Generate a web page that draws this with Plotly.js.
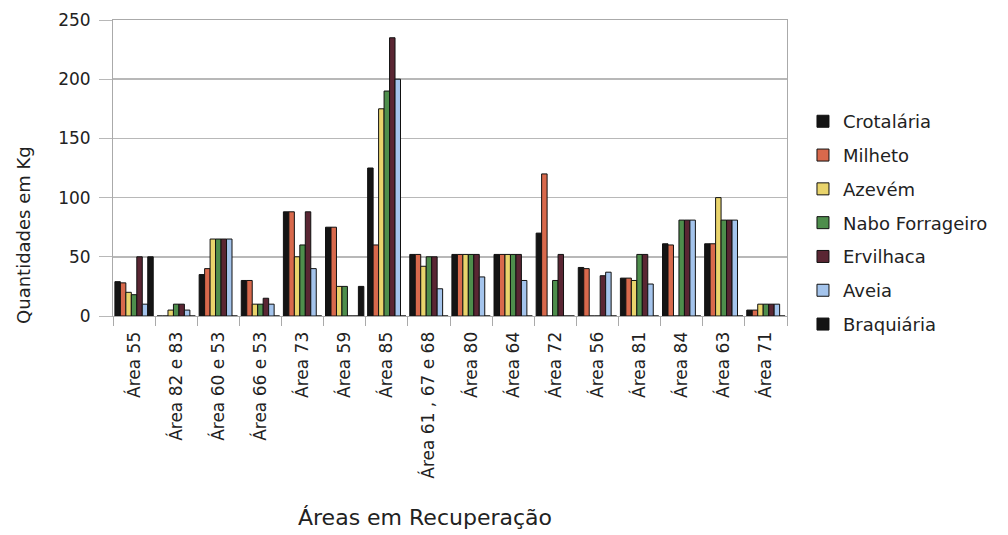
<!DOCTYPE html>
<html>
<head>
<meta charset="utf-8">
<script src="https://cdn.plot.ly/plotly-3.0.1.min.js"></script>
<style>html,body{margin:0;padding:0;background:#fff;}#chart{width:1008px;height:535px;}</style>
</head>
<body>
<div id="chart"></div>
<script>
const categories = ["Área 55","Área 82 e 83","Área 60 e 53","Área 66 e 53","Área 73","Área 59","Área 85","Área 61 , 67 e 68","Área 80","Área 64","Área 72","Área 56","Área 81","Área 84","Área 63","Área 71"];
const seriesNames = ["Crotalária","Milheto","Azevém","Nabo Forrageiro","Ervilhaca","Aveia","Braquiária"];
const crotalaria = [29, 0, 35, 30, 88, 75, 125, 52, 52, 52, 70, 41, 32, 61, 61, 5];
const milheto    = [28, 0, 40, 30, 88, 75, 60, 52, 52, 52, 120, 40, 32, 60, 61, 5];
const azevem     = [20, 5, 65, 10, 50, 25, 175, 42, 52, 52, 0, 0, 30, 0, 100, 10];
const nabo       = [18, 10, 65, 10, 60, 25, 190, 50, 52, 52, 30, 0, 52, 81, 81, 10];
const ervilhaca  = [50, 10, 65, 15, 88, 0, 235, 50, 52, 52, 52, 34, 52, 81, 81, 10];
const aveia      = [10, 5, 65, 10, 40, 0, 200, 23, 33, 30, 0, 37, 27, 81, 81, 10];
const braquiaria = [50, 0, 0, 0, 0, 25, 0, 0, 0, 0, 0, 0, 0, 0, 0, 0];
const colors = ["#141414","#d8694c","#e9d46c","#4e8e4c","#5a2633","#a4c4ec","#141414"];
const values = [crotalaria, milheto, azevem, nabo, ervilhaca, aveia, braquiaria];
const xTitle = 'Áreas em Recuperação';
const yTitle = 'Quantidades em Kg';

const traces = values.map((v, i) => ({
  type: 'bar', x: categories, y: v, name: seriesNames[i], legendgroup: 'g' + i,
  marker: {color: colors[i], line: {color: '#111', width: 1}}
}));

const layout = {
  width: 1008, height: 535,
  margin: {l: 113, r: 221, t: 20, b: 219},
  paper_bgcolor: '#fff', plot_bgcolor: '#fff',
  font: {family: 'DejaVu Sans, sans-serif', color: '#222', size: 17},
  barmode: 'group', bargap: 0.09, bargroupgap: 0,
  showlegend: true,
  legend: {x: 1.0237, y: 0.314, xanchor: 'left', yanchor: 'middle', font: {size: 18}, tracegroupgap: 7.4, traceorder: 'grouped', bgcolor: 'rgba(0,0,0,0)'},
  xaxis: {
    type: 'category', tickangle: -90, tickfont: {size: 17}, tickson: 'boundaries',
    ticks: 'outside', ticklen: 9, tickcolor: '#aaa', showline: true, linecolor: '#aaa', mirror: true,
    ticklabelstandoff: 8, automargin: false
  },
  yaxis: {
    range: [0, 250], dtick: 50, showgrid: true, gridcolor: '#b8b8b8', gridwidth: 1.5,
    ticks: 'outside', ticklen: 13, tickcolor: '#b8b8b8', showline: true, linecolor: '#aaa', mirror: true,
    ticklabelstandoff: 5,
    zeroline: false, tickfont: {size: 17}, automargin: false
  },
  annotations: [
    {text: xTitle, xref: 'paper', yref: 'paper', x: 0.463, y: -0.682, xanchor: 'center', yanchor: 'middle', showarrow: false, font: {size: 22}},
    {text: yTitle, xref: 'paper', yref: 'paper', x: -0.132, y: 0.274, xanchor: 'center', yanchor: 'middle', textangle: -90, showarrow: false, font: {size: 18}}
  ]
};
Plotly.newPlot('chart', traces, layout, {displayModeBar: false, staticPlot: true});
</script>
</body>
</html>
